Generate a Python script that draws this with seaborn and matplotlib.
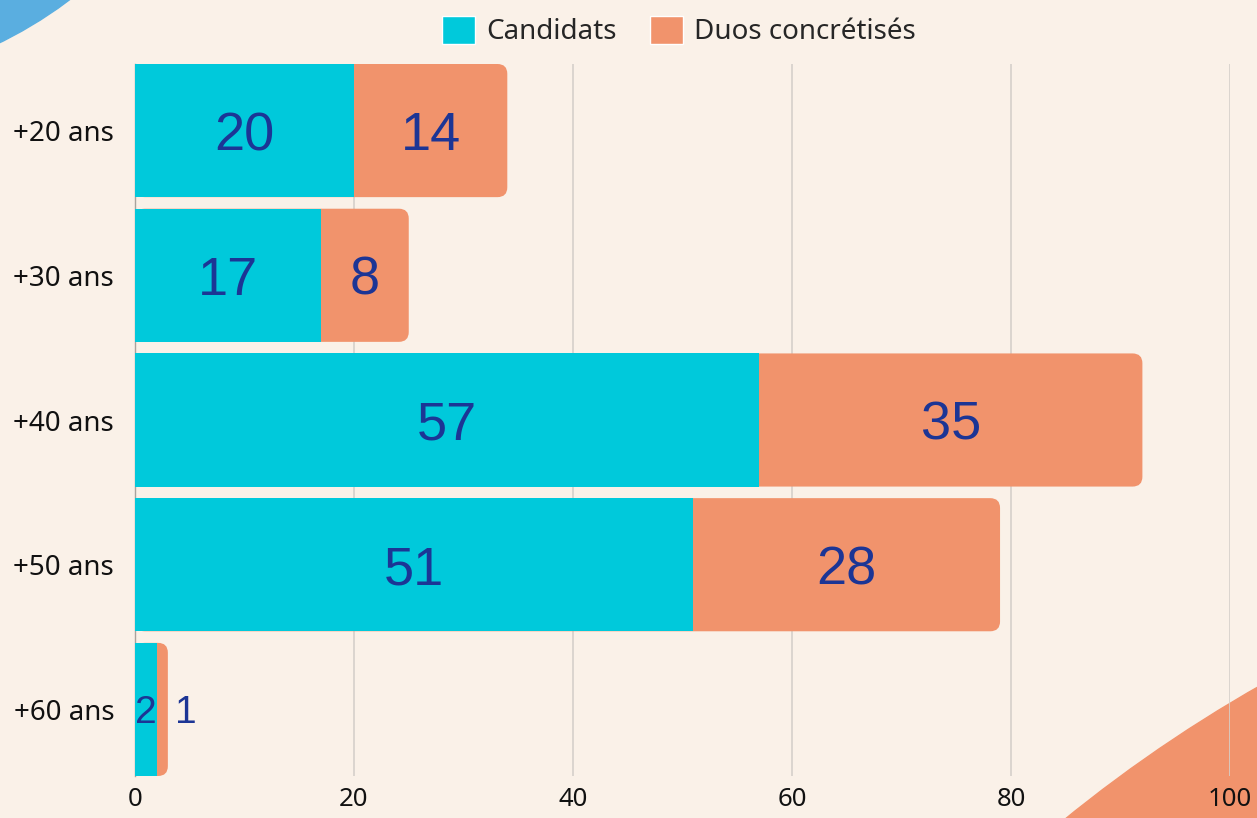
import numpy as np
import pandas as pd
import seaborn as sns
import matplotlib.pyplot as plt
from matplotlib.patches import FancyBboxPatch, Circle, Patch

# data
tranches = ["+20 ans", "+30 ans", "+40 ans", "+50 ans", "+60 ans"]
candidats = [20, 17, 57, 51, 2]
duos = [14, 8, 35, 28, 1]

bg = "#FAF1E8"
teal = "#00C9DB"
orange = "#F1936C"
label_col = "#1C3595"

df = pd.DataFrame({"tranche": tranches, "Candidats": candidats, "Duos": duos})
df["total"] = df["Candidats"] + df["Duos"]

sns.set_style("white")
plt.rcParams["font.family"] = ["Noto Sans", "DejaVu Sans"]

fig = plt.figure(figsize=(12.57, 8.18), dpi=100, facecolor=bg)
ax = fig.add_axes([135 / 1257, 42 / 818, 1095 / 1257, 712 / 818])
ax.set_facecolor(bg)
ax.set_zorder(1)
ax.patch.set_alpha(0)

# decorative circles
fig.patches.append(Circle((-191, 818 + 346), 433, transform=None, color="#5AAEE0", zorder=0))
fig.patches.append(Circle((1966, 818 - 1927), 1428, transform=None, color=orange, zorder=0))

# orange = total bar (rounded) behind, teal on top
sns.barplot(data=df, x="total", y="tranche", color=orange, width=0.92,
            saturation=1, ax=ax, orient="h", zorder=2, edgecolor="none")
for p in list(ax.patches):
    x0, y0, w, h = p.get_x(), p.get_y(), p.get_width(), p.get_height()
    p.remove()
    fb = FancyBboxPatch((x0, y0), w, h, boxstyle="round,pad=0,rounding_size=0.9",
                        mutation_aspect=0.0755, facecolor=orange, edgecolor="none", zorder=2)
    ax.add_patch(fb)
sns.barplot(data=df, x="Candidats", y="tranche", color=teal, width=0.92,
            saturation=1, ax=ax, orient="h", zorder=3, edgecolor="none")

# value labels
for i, (c, d) in enumerate(zip(candidats, duos)):
    small = (c + d) < 5
    fs = 28 if small else 39
    dy = 0.097 if small else 0.135
    ax.text(c / 2, i + dy, str(c), ha="center", va="baseline", fontsize=fs,
            color=label_col, family="Liberation Sans", zorder=5)
    xd = c + d + 1.6 if small else c + d / 2
    ax.text(xd, i + dy, str(d), ha="center", va="baseline", fontsize=fs,
            color=label_col, family="Liberation Sans", zorder=5)

ax.set_xlim(0, 100)
ax.set_ylim(4.46, -0.46)
ax.set_xticks([0, 20, 40, 60, 80, 100])
ax.xaxis.grid(True, color="#D5D0CA", linewidth=1.2, zorder=0)
ax.set_axisbelow(True)
ax.tick_params(axis="y", length=0, pad=15, labelsize=20, labelcolor="#111111")
ax.tick_params(axis="x", length=0, pad=8, labelsize=18.5, labelcolor="#111111")
ax.set_xlabel("")
ax.set_ylabel("")
for s in ["top", "right", "bottom"]:
    ax.spines[s].set_visible(False)
ax.spines["left"].set_color("#A8A39D")
ax.spines["left"].set_linewidth(1)

handles = [Patch(facecolor=teal, label="Candidats"), Patch(facecolor=orange, label="Duos concrétisés")]
fig.legend(handles=handles, loc="center", bbox_to_anchor=(0.540, 1 - 31 / 818), ncol=2,
           frameon=False, fontsize=20, handlelength=1.2, handleheight=1.2,
           handletextpad=0.4, columnspacing=1.2)

fig.savefig("out.png", dpi=100, facecolor=bg)
